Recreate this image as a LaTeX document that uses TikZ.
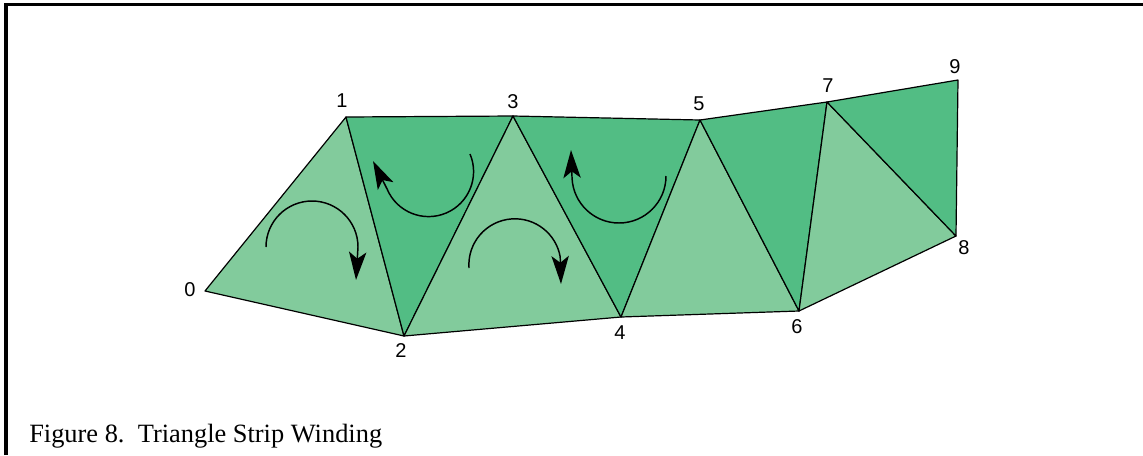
\documentclass[tikz,border=0pt]{standalone}
\usepackage{fontspec}
\setmainfont{Liberation Serif}
\newfontfamily\labfont{Liberation Sans}
\usetikzlibrary{arrows.meta}
\definecolor{lightg}{HTML}{82CB9C}
\definecolor{darkg}{HTML}{52BD84}
\tikzset{
  tri/.style={draw=black,line width=0.9pt,line join=round},
  lt/.style={tri,fill=lightg},
  dk/.style={tri,fill=darkg},
  vlab/.style={font=\labfont\fontsize{15}{16}\selectfont,inner sep=0pt},
  turn/.style={line width=1.1pt,-{Stealth[length=21pt,width=13pt,inset=5pt]}},
  frame/.style={line width=2.4pt}
}
\begin{document}
\begin{tikzpicture}[x=0.75pt,y=-0.75pt]
\useasboundingbox (0,0) rectangle (1143,455);
\draw[frame] (6,455) -- (6,4.3) -- (1143,4.3);
\coordinate (v0) at (205,291);
\coordinate (v1) at (346,117);
\coordinate (v2) at (404,336);
\coordinate (v3) at (513,116);
\coordinate (v4) at (621,317);
\coordinate (v5) at (700,120);
\coordinate (v6) at (799,311);
\coordinate (v7) at (827,102);
\coordinate (v8) at (956,236);
\coordinate (v9) at (958,80);
\filldraw[lt] (v0) -- (v1) -- (v2) -- cycle;
\filldraw[dk] (v1) -- (v2) -- (v3) -- cycle;
\filldraw[lt] (v2) -- (v3) -- (v4) -- cycle;
\filldraw[dk] (v3) -- (v4) -- (v5) -- cycle;
\filldraw[lt] (v4) -- (v5) -- (v6) -- cycle;
\filldraw[dk] (v5) -- (v6) -- (v7) -- cycle;
\filldraw[lt] (v6) -- (v7) -- (v8) -- cycle;
\filldraw[dk] (v7) -- (v8) -- (v9) -- cycle;
\node[vlab] (l0) at (190,290) {0};
\node[vlab] (l1) at (342,101) {1};
\node[vlab] (l2) at (401,351) {2};
\node[vlab] (l3) at (513,102) {3};
\node[vlab] (l4) at (620,333) {4};
\node[vlab] (l5) at (699,104) {5};
\node[vlab] (l6) at (797,327) {6};
\node[vlab] (l7) at (828,86) {7};
\node[vlab] (l8) at (964,248) {8};
\node[vlab] (l9) at (955,67) {9};
\coordinate (t1) at (356,280);
\coordinate (t2) at (373,161);
\coordinate (t3) at (561,284);
\coordinate (t4) at (571,150);
\draw[turn] (266,247) arc[start angle=180,end angle=360,radius=46] -- (t1);
\draw[turn] (470,154) arc[start angle=-23,end angle=157,radius=45] -- (t2);
\draw[turn] (469,268) arc[start angle=176,end angle=350,radius=46] -- (t3);
\draw[turn] (666,176) arc[start angle=0,end angle=177,radius=47] -- (t4);
\node[anchor=base west,inner sep=0pt,font=\fontsize{19.8}{22}\selectfont] (cap) at (29,442) {Figure 8.\ \ Triangle Strip Winding};
\end{tikzpicture}
\end{document}
